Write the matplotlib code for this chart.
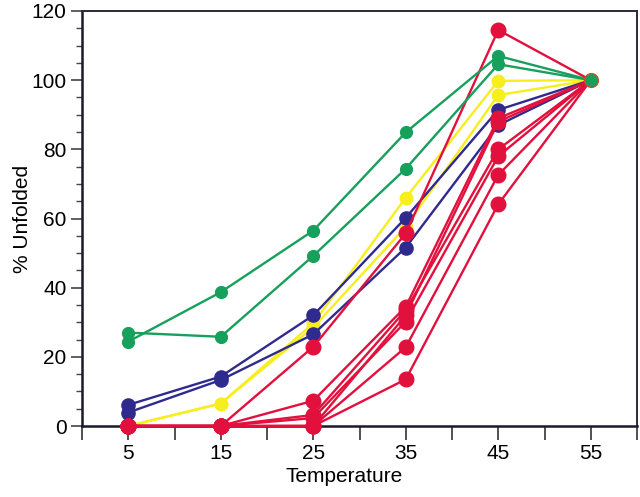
import matplotlib
matplotlib.use('Agg')
import matplotlib.pyplot as plt
from matplotlib.ticker import MultipleLocator

plt.rcParams['font.family'] = ['Liberation Sans', 'DejaVu Sans']

# 温度
temps = [5, 15, 25, 35, 45, 55]

# 各组 % Unfolded
green_series = [
    [27.0, 25.8, 49.2, 74.4, 104.6, 100],
    [24.4, 38.7, 56.5, 84.9, 107.0, 100],
]
blue_series = [
    [6.1, 14.3, 32.0, 60.2, 91.4, 100],
    [3.9, 13.3, 26.5, 51.6, 87.0, 100],
]
yellow_series = [
    [0, 6.5, 29.7, 66.0, 99.8, 100],
    [0, 6.5, 28.5, 57.6, 95.7, 100],
]
red_series = [
    [0, 0, 22.9, 55.7, 114.5, 100],
    [0, 0, 7.3, 34.5, 89.0, 100],
    [0, 0, 3.2, 33.5, 80.0, 100],
    [0, 0, 2.3, 30.2, 78.0, 100],
    [0, 0, 0, 32.0, 88.0, 100],
    [0, 0, 0, 22.8, 72.6, 100],
    [0, 0, 0, 13.5, 64.1, 100],
]

xtick_labels = ['5', '15', '25', '35', '45', '55']

green = '#17a05c'
blue = '#2f2a8e'
yellow = '#f7ee1e'
red = '#e2103c'

fig = plt.figure(figsize=(6.4, 4.97), dpi=100)
ax = fig.add_axes([82 / 640, 1 - 426 / 497, 555 / 640, 415 / 497])

# 绘制各组折线（55 处的终点单独画）
for s in yellow_series:
    ax.plot(temps, s, color=yellow, lw=1.7, clip_on=False, zorder=3)
    ax.plot(temps[:-1], s[:-1], 'o', color=yellow, ms=9, clip_on=False, zorder=3)
for s in blue_series:
    ax.plot(temps, s, color=blue, lw=1.7, clip_on=False, zorder=4)
    ax.plot(temps[:-1], s[:-1], 'o', color=blue, ms=9.5, clip_on=False, zorder=4)
for s in red_series:
    ax.plot(temps, s, color=red, lw=1.7, clip_on=False, zorder=5)
    ax.plot(temps[:-1], s[:-1], 'o', color=red, ms=10.5, clip_on=False, zorder=5)
for s in green_series:
    ax.plot(temps, s, color=green, lw=1.7, clip_on=False, zorder=6)
    ax.plot(temps[:-1], s[:-1], 'o', color=green, ms=8.5, clip_on=False, zorder=6)
# 55 处的共同点
ax.plot([temps[-1]], [green_series[0][-1]], 'o', color=green, ms=10,
        mec='#c8502a', mew=0.9, zorder=7, clip_on=False)

ax.set_xlim(0, 60)
ax.set_ylim(0, 120)

# x 轴刻度：每 5 一个刻度，只在 5,15,...,55 标数字
xt = list(range(0, 61, 5))
xl = [str(t) if str(t) in xtick_labels else '' for t in xt]
ax.set_xticks(xt, xl)
ax.tick_params(axis='x', direction='out', length=10, width=1.2, color='#333333',
               labelsize=15, pad=3)

# y 轴刻度
ax.yaxis.set_major_locator(MultipleLocator(20))
ax.yaxis.set_minor_locator(MultipleLocator(5))
ax.tick_params(axis='y', which='major', direction='out', length=8, width=1.2,
               color='#444444', labelsize=15, pad=3)
ax.tick_params(axis='y', which='minor', direction='out', length=4, width=1.0,
               color='#444444')

for side in ['left', 'bottom']:
    ax.spines[side].set_linewidth(1.8)
    ax.spines[side].set_color('#1a1a2a')
for side in ['top', 'right']:
    ax.spines[side].set_linewidth(1.4)
    ax.spines[side].set_color('#2a2a3a')

ax.set_xlabel('Temperature', fontsize=15)
ax.xaxis.set_label_coords(0.472, -0.098)
ax.set_ylabel('% Unfolded', fontsize=15)
ax.yaxis.set_label_coords(-0.09, 0.5)

fig.savefig('out.png', dpi=100)
